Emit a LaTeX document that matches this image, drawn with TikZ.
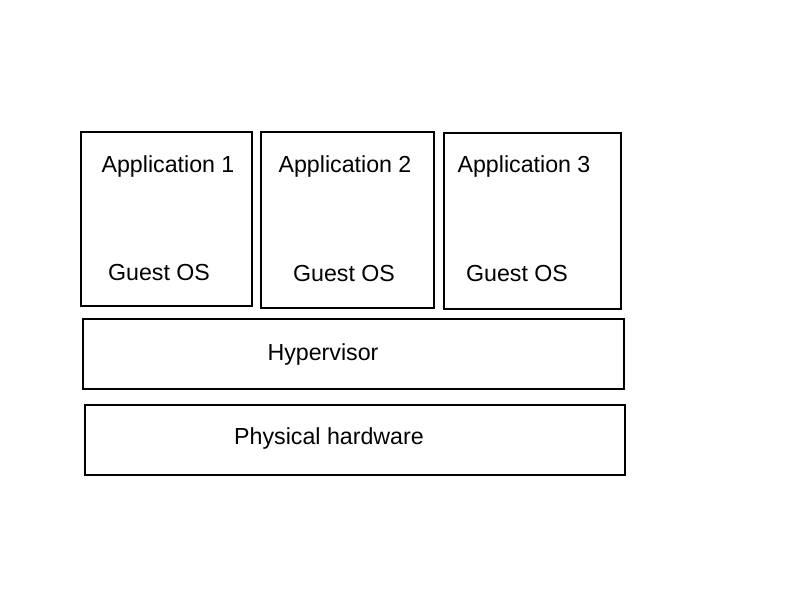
\documentclass[tikz,border=0pt]{standalone}
\usepackage{fontspec}
\setmainfont{Liberation Sans}
\usepackage{tikz}
\usetikzlibrary{positioning}

\begin{document}
\begin{tikzpicture}[x=0.025cm,y=-0.025cm,font=\fontsize{16.5}{19}\selectfont]
    \tikzstyle{layer}=[shape=rectangle,draw,line width=1.4pt,inner sep=0pt,anchor=north west]
    \tikzstyle{label}=[inner sep=0pt]

    \useasboundingbox (0,0) rectangle (800,600);

    \node[layer, minimum width=171*0.025cm, minimum height=174*0.025cm] (VM1) at (80,131) {};
    \node[layer, minimum width=173*0.025cm, minimum height=176*0.025cm] (VM2) at (260,131) {};
    \node[layer, minimum width=177*0.025cm, minimum height=176*0.025cm] (VM3) at (443,132) {};
    \node[layer, minimum width=541*0.025cm, minimum height=70*0.025cm] (HV) at (82,318) {};
    \node[layer, minimum width=540*0.025cm, minimum height=70*0.025cm] (HW) at (84,404) {};

    \node[label] (A1) at (168,166) {Application 1};
    \node[label] (A2) at (345,166) {Application 2};
    \node[label] (A3) at (524,166) {Application 3};
    \node[label] (G1) at (159,273) {Guest OS};
    \node[label] (G2) at (344,274) {Guest OS};
    \node[label] (G3) at (517,274) {Guest OS};
    \node[label] (HVt) at (323,354) {Hypervisor};
    \node[label] (HWt) at (329,438) {Physical hardware};
  \end{tikzpicture}
\end{document}
